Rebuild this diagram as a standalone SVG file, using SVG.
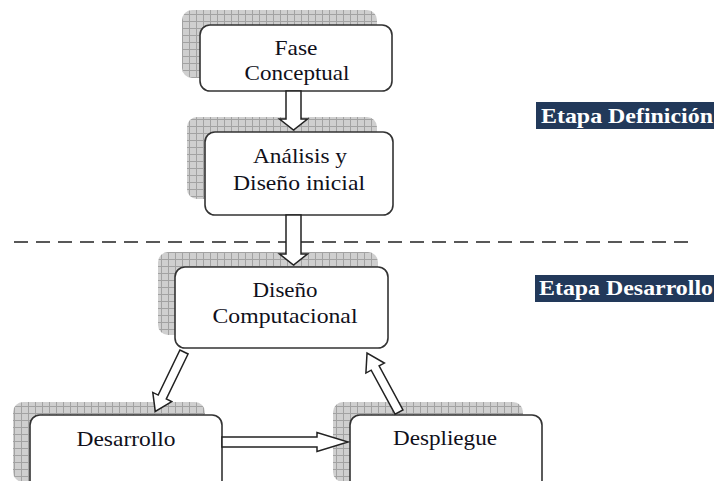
<svg xmlns="http://www.w3.org/2000/svg" width="714" height="481" viewBox="0 0 714 481">
<defs>
<pattern id="grid" width="7" height="7" patternUnits="userSpaceOnUse">
<rect width="7" height="7" fill="#cfcfcf"/>
<path d="M0,0.5H7M0.5,0V7" stroke="#a2a2a2" stroke-width="1"/>
</pattern>
</defs>
<style>
.sh{fill:url(#grid);}
.bx{fill:#fff;stroke:#333;stroke-width:1.6;}
.t{font-family:"Liberation Serif","Times New Roman",serif;font-size:21px;fill:#10101a;text-anchor:middle;}
.lb{fill:#22395a;}
.lt{font-family:"Liberation Serif","Times New Roman",serif;font-size:21px;font-weight:bold;fill:#fff;}
.ar{fill:#fff;stroke:#222;stroke-width:1.5;stroke-linejoin:miter;}
.dash{stroke:#222;stroke-width:1.5;stroke-dasharray:14,8;fill:none;}
</style>
<rect width="714" height="481" fill="#fff"/>
<line class="dash" x1="14" y1="242" x2="688" y2="242"/>
<g id="etapa-definicion">
<rect class="lb" x="536" y="102" width="178" height="27"/>
<text class="lt" x="541" y="123" textLength="172" lengthAdjust="spacingAndGlyphs">Etapa Definición</text>
</g>
<g id="etapa-desarrollo">
<rect class="lb" x="535" y="275" width="179" height="27"/>
<text class="lt" x="539" y="295" textLength="174" lengthAdjust="spacingAndGlyphs">Etapa Desarrollo</text>
</g>
<g id="fase-conceptual">
<rect class="sh" x="182" y="10" width="195" height="68" rx="10"/>
<rect class="bx" x="200" y="25" width="192" height="66" rx="10"/>
<text class="t" x="296" y="55" textLength="43" lengthAdjust="spacingAndGlyphs">Fase</text>
<text class="t" x="297" y="80" textLength="105" lengthAdjust="spacingAndGlyphs">Conceptual</text>
</g>
<g id="analisis">
<rect class="sh" x="187" y="117" width="190" height="82" rx="10"/>
<rect class="bx" x="205" y="132" width="188" height="83" rx="10"/>
<text class="t" x="300" y="163" textLength="94" lengthAdjust="spacingAndGlyphs">Análisis y</text>
<text class="t" x="299" y="190" textLength="132" lengthAdjust="spacingAndGlyphs">Diseño inicial</text>
</g>
<g id="diseno-computacional">
<rect class="sh" x="158" y="252" width="220" height="83" rx="10"/>
<rect class="bx" x="175" y="267" width="213" height="81" rx="10"/>
<text class="t" x="285" y="297" textLength="65" lengthAdjust="spacingAndGlyphs">Diseño</text>
<text class="t" x="285" y="323" textLength="145" lengthAdjust="spacingAndGlyphs">Computacional</text>
</g>
<g id="desarrollo">
<rect class="sh" x="13" y="402" width="192" height="80" rx="10"/>
<rect class="bx" x="30" y="415" width="192" height="75" rx="10"/>
<text class="t" x="126" y="446" textLength="99" lengthAdjust="spacingAndGlyphs">Desarrollo</text>
</g>
<g id="despliegue">
<rect class="sh" x="333" y="402" width="190" height="80" rx="10"/>
<rect class="bx" x="350" y="415" width="192" height="75" rx="10"/>
<text class="t" x="445" y="445" textLength="104" lengthAdjust="spacingAndGlyphs">Despliegue</text>
</g>
<g id="connectors">
<path class="ar" transform="translate(293.5,91) rotate(90)" d="M0,-7.5H28V-14L39,0L28,14V7.5H0Z"/>
<path class="ar" transform="translate(293.5,215) rotate(90)" d="M0,-7.5H39V-14L50,0L39,14V7.5H0Z"/>
<path class="ar" transform="translate(184,352) rotate(115.8)" d="M0,-4.5H50V-10.5L66,0L50,10.5V4.5H0Z"/>
<path class="ar" transform="translate(222,442) rotate(0)" d="M0,-5H95V-9.5L126,0L95,9.5V5H0Z"/>
<path class="ar" transform="translate(399,412) rotate(241.5)" d="M0,-4.5H50V-10.5L67,0L50,10.5V4.5H0Z"/>
</g>
</svg>
